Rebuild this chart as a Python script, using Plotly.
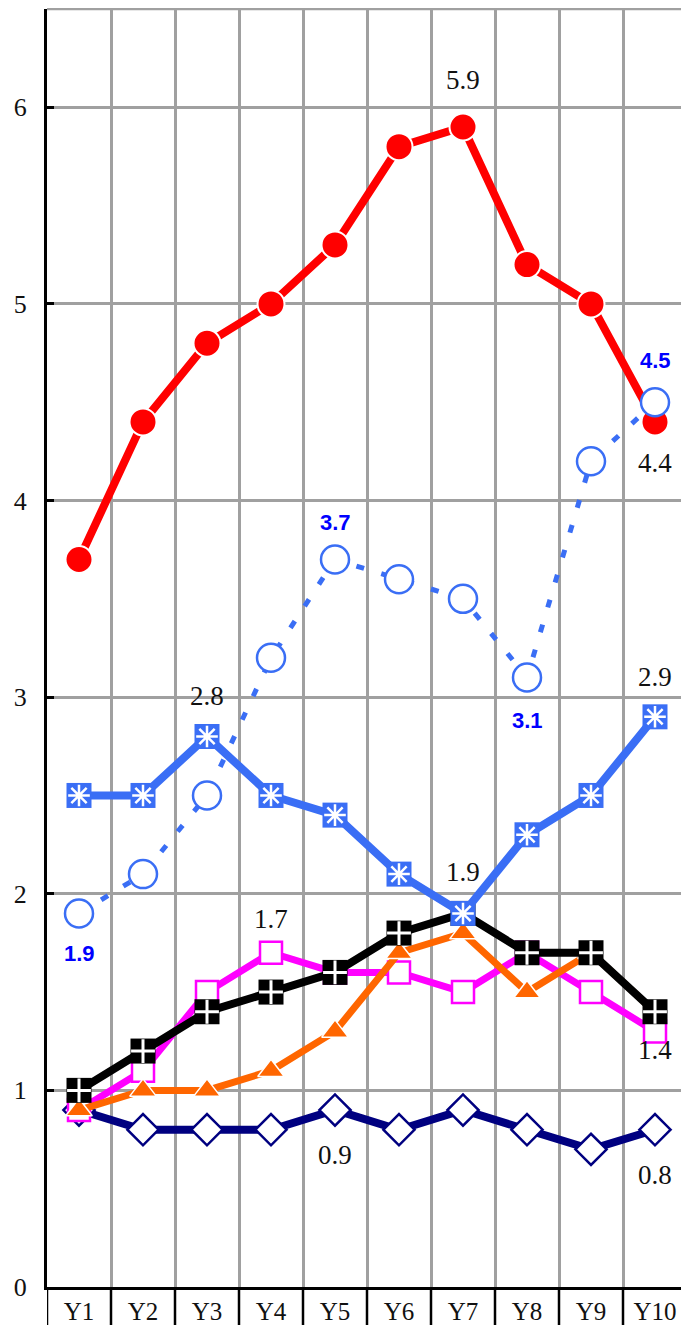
import plotly.graph_objects as go

categories = ["Y1", "Y2", "Y3", "Y4", "Y5", "Y6", "Y7", "Y8", "Y9", "Y10"]

red_vals = [3.7, 4.4, 4.8, 5.0, 5.3, 5.8, 5.9, 5.2, 5.0, 4.4]
blue_dash_vals = [1.9, 2.1, 2.5, 3.2, 3.7, 3.6, 3.5, 3.1, 4.2, 4.5]
blue_solid_vals = [2.5, 2.5, 2.8, 2.5, 2.4, 2.1, 1.9, 2.3, 2.5, 2.9]
black_vals = [1.0, 1.2, 1.4, 1.5, 1.6, 1.8, 1.9, 1.7, 1.7, 1.4]
magenta_vals = [0.9, 1.1, 1.5, 1.7, 1.6, 1.6, 1.5, 1.7, 1.5, 1.3]
orange_vals = [0.9, 1.0, 1.0, 1.1, 1.3, 1.7, 1.8, 1.5, 1.7, 1.4]
navy_vals = [0.9, 0.8, 0.8, 0.8, 0.9, 0.8, 0.9, 0.8, 0.7, 0.8]

y_ticks = [0, 1, 2, 3, 4, 5, 6]

RED = "#ff0000"
BLUE = "#3a6ef5"
NAVY = "#000080"
MAGENTA = "#ff00ff"
ORANGE = "#ff6600"
BLACK = "#000000"

fig = go.Figure()

# red
fig.add_trace(go.Scatter(x=categories, y=red_vals, mode="lines+markers",
    line=dict(color=RED, width=8),
    marker=dict(symbol="circle", size=27, color=RED, line=dict(color="white", width=2))))
# navy diamonds
fig.add_trace(go.Scatter(x=categories, y=navy_vals, mode="lines+markers",
    line=dict(color=NAVY, width=8),
    marker=dict(symbol="diamond", size=24, color="white", line=dict(color=NAVY, width=2.5))))
# magenta open squares
fig.add_trace(go.Scatter(x=categories, y=magenta_vals, mode="lines+markers",
    line=dict(color=MAGENTA, width=7),
    marker=dict(symbol="square", size=22, color="white", line=dict(color=MAGENTA, width=2.5))))
# orange triangles
fig.add_trace(go.Scatter(x=categories, y=orange_vals, mode="lines+markers",
    line=dict(color=ORANGE, width=7),
    marker=dict(symbol="triangle-up", size=23, color=ORANGE, line=dict(color="white", width=1.5))))
# black squares with cross
fig.add_trace(go.Scatter(x=categories, y=black_vals, mode="lines+markers",
    line=dict(color=BLACK, width=8),
    marker=dict(symbol="square", size=25, color=BLACK, line=dict(color=BLACK, width=0))))
fig.add_trace(go.Scatter(x=categories, y=black_vals, mode="markers",
    marker=dict(symbol="cross-thin-open", size=17, color="white", line=dict(color="white", width=3))))
# blue solid squares with asterisk
fig.add_trace(go.Scatter(x=categories, y=blue_solid_vals, mode="lines+markers",
    line=dict(color=BLUE, width=8),
    marker=dict(symbol="square", size=25, color=BLUE, line=dict(color=BLUE, width=0))))
fig.add_trace(go.Scatter(x=categories, y=blue_solid_vals, mode="markers",
    marker=dict(symbol="asterisk-open", size=18, color="white", line=dict(color="white", width=2.5))))
# blue dashed open circles
fig.add_trace(go.Scatter(x=categories, y=blue_dash_vals, mode="lines+markers",
    line=dict(color=BLUE, width=5, dash="8px,18px"),
    marker=dict(symbol="circle", size=28, color="white", line=dict(color=BLUE, width=2.5))))

# data labels: (values, index, yshift, style)
serif_font = dict(family="Liberation Serif", size=27, color="#111111")
blue_font = dict(family="Liberation Sans", size=22, color="#0000ff", weight="bold")
labels = [
    (red_vals, 6, 47, serif_font),
    (red_vals, 9, -41, serif_font),
    (blue_dash_vals, 0, -40, blue_font),
    (blue_dash_vals, 4, 37, blue_font),
    (blue_dash_vals, 7, -43, blue_font),
    (blue_dash_vals, 9, 42, blue_font),
    (blue_solid_vals, 2, 40, serif_font),
    (blue_solid_vals, 6, 41, serif_font),
    (blue_solid_vals, 9, 40, serif_font),
    (magenta_vals, 3, 34, serif_font),
    (black_vals, 9, -38, serif_font),
    (navy_vals, 4, -45, serif_font),
    (navy_vals, 9, -45, serif_font),
]
for vals, i, ys, f in labels:
    fig.add_annotation(x=categories[i], y=vals[i], text=f"{vals[i]:.1f}", showarrow=False,
                       yshift=ys, font=f)

# category boundary tick marks below the axis
shapes = []
for k in range(len(categories) + 1):
    shapes.append(dict(type="line", xref="x", yref="paper", x0=k - 0.5, x1=k - 0.5,
                       y0=-0.05, y1=0, line=dict(color="black", width=2.5)))
# top border
shapes.append(dict(type="line", xref="paper", yref="paper", x0=0, x1=1, y0=1, y1=1,
                   line=dict(color="#a0a0a0", width=2.5)))
fig.update_layout(shapes=shapes)

# page body has an 8px default margin; size the figure to compensate
fig.update_layout(
    width=681, height=1317,
    margin=dict(l=39, r=2, t=1, b=38),
    plot_bgcolor="white", paper_bgcolor="white",
    showlegend=False,
    xaxis=dict(type="category", categoryorder="array", categoryarray=categories,
               range=[-0.5, 9.5], tickson="boundaries", showgrid=True,
               gridcolor="#a0a0a0", gridwidth=2.5, ticks="", showline=True,
               linecolor="black", linewidth=3, automargin=False,
               tickfont=dict(family="Liberation Serif", size=25, color="#111111"),
               ticklabelstandoff=0, zeroline=False),
    yaxis=dict(range=[0, 6.5], tickvals=y_ticks, showgrid=True, gridcolor="#a0a0a0",
               gridwidth=2.5, ticks="inside", ticklen=7, tickwidth=2.5, tickcolor="black",
               showline=True, linecolor="black", linewidth=3, zeroline=False,
               automargin=False,
               tickfont=dict(family="Liberation Serif", size=26, color="#111111"),
               ticklabelstandoff=12),
)

fig.write_html("out.html")
